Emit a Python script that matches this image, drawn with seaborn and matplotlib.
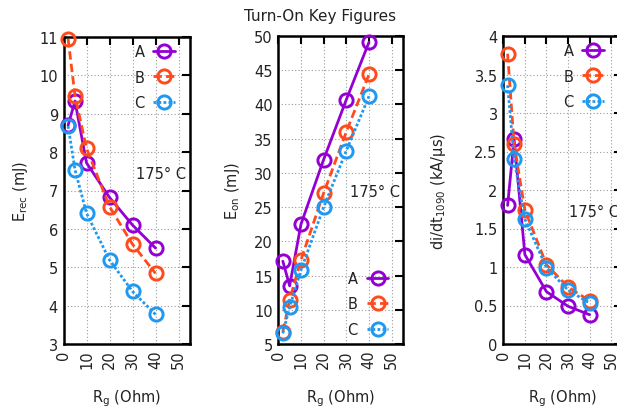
import matplotlib
matplotlib.use("Agg")
import matplotlib.pyplot as plt
import seaborn as sns
import pandas as pd
from matplotlib.ticker import FormatStrFormatter, MultipleLocator

sns.set_theme(style="white")
plt.rcParams['font.family'] = ['DejaVu Sans']

rg = [2, 5, 10, 20, 30, 40]
devices = ["A", "B", "C"]

erec_A = [8.7, 9.33, 7.72, 6.82, 6.1, 5.5]
erec_B = [10.95, 9.47, 8.1, 6.58, 5.6, 4.84]
erec_C = [8.68, 7.54, 6.41, 5.19, 4.37, 3.77]

eon_A = [17.1, 13.5, 22.5, 31.95, 40.7, 49.1]
eon_B = [6.8, 11.46, 17.3, 27.05, 36.0, 44.4]
eon_C = [6.55, 10.4, 15.8, 25.0, 33.25, 41.2]

didt_A = [1.8, 2.66, 1.16, 0.68, 0.49, 0.38]
didt_B = [3.77, 2.6, 1.74, 1.03, 0.74, 0.56]
didt_C = [3.36, 2.4, 1.62, 0.99, 0.7, 0.53]

colors = {"A": "#9400D3", "B": "#FF4A1C", "C": "#1E98F0"}
styles = {"A": "-", "B": (0, (3, 1.5)), "C": (0, (1, 0.8))}

W, H = 617, 410
fig = plt.figure(figsize=(W / 100, H / 100), dpi=100)

def frac(l, r, t, b):
    return [l / W, 1 - b / H, (r - l) / W, (b - t) / H]

panels = [
    dict(rect=frac(63.5, 190, 38, 345), vals=[erec_A, erec_B, erec_C], ylim=(3, 11), ystep=1,
         ylabel="E$_{\\mathregular{rec}}$ (mJ)", txt=(31.5, 7.45), ylx=-0.265,
         leg=dict(loc="upper right", bbox_to_anchor=(0.93, 0.995))),
    dict(rect=frac(278.3, 403, 37, 345), vals=[eon_A, eon_B, eon_C], ylim=(5, 50), ystep=5,
         ylabel="E$_{\\mathregular{on}}$ (mJ)", txt=(31.5, 27.3), ylx=-0.29,
         leg=dict(loc="lower right", bbox_to_anchor=(0.93, 0.005))),
    dict(rect=frac(503.3, 622, 37, 345), vals=[didt_A, didt_B, didt_C], ylim=(0, 4), ystep=0.5,
         ylabel="di/dt$_{\\mathregular{1090}}$ (kA/\u03bcs)", txt=(30.5, 1.72), ylx=-0.466,
         leg=dict(loc="upper right", bbox_to_anchor=(0.9, 0.995))),
]

for p in panels:
    ax = fig.add_axes(p["rect"])
    for dev, vals in zip(devices, p["vals"]):
        df = pd.DataFrame({"Rg": rg, "val": vals})
        sns.lineplot(data=df, x="Rg", y="val", ax=ax, color=colors[dev],
                     linestyle=styles[dev], linewidth=2.0, marker="o",
                     markersize=9.5, markerfacecolor="none",
                     markeredgecolor=colors[dev], markeredgewidth=2.1,
                     label=dev, zorder=3, clip_on=False)
    ax.set_xlim(0, 55)
    ax.set_ylim(*p["ylim"])
    ax.xaxis.set_major_locator(MultipleLocator(10))
    ax.yaxis.set_major_locator(MultipleLocator(p["ystep"]))
    ax.yaxis.set_major_formatter(FormatStrFormatter('%g'))
    ax.grid(True, linestyle=(0, (1, 2)), color="#9a9a9a", linewidth=0.8)
    ax.set_axisbelow(True)
    for s in ax.spines.values():
        s.set_color("black")
        s.set_linewidth(1.8)
        s.set_visible(True)
    ax.tick_params(direction="in", length=6, width=1.5, top=True, right=True,
                   labelsize=10.5, colors="black", pad=4)
    ax.tick_params(axis="x", labelrotation=90)
    for lbl in ax.get_xticklabels() + ax.get_yticklabels():
        lbl.set_color("#222222")
    ax.set_xlabel("R$_{\\mathregular{g}}$ (Ohm)", fontsize=10.5, labelpad=14, color="#222222")
    ax.set_ylabel(p["ylabel"], fontsize=10.5, color="#222222")
    ax.yaxis.set_label_coords(p["ylx"], 0.5)
    ax.text(p["txt"][0], p["txt"][1], "175\u00b0 C", fontsize=10.5, ha="left",
            va="center", color="#222222")
    leg = ax.legend(markerfirst=False, frameon=False, handlelength=1.5,
                    labelspacing=0.7, borderaxespad=0, handletextpad=0.6,
                    fontsize=10.5, **p["leg"])
    for t in leg.get_texts():
        t.set_color("#222222")

fig.text(320 / W, 1 - 17 / H, "Turn-On Key Figures", ha="center", va="center",
         fontsize=11, color="#222222")

fig.savefig("out.png", dpi=100)
